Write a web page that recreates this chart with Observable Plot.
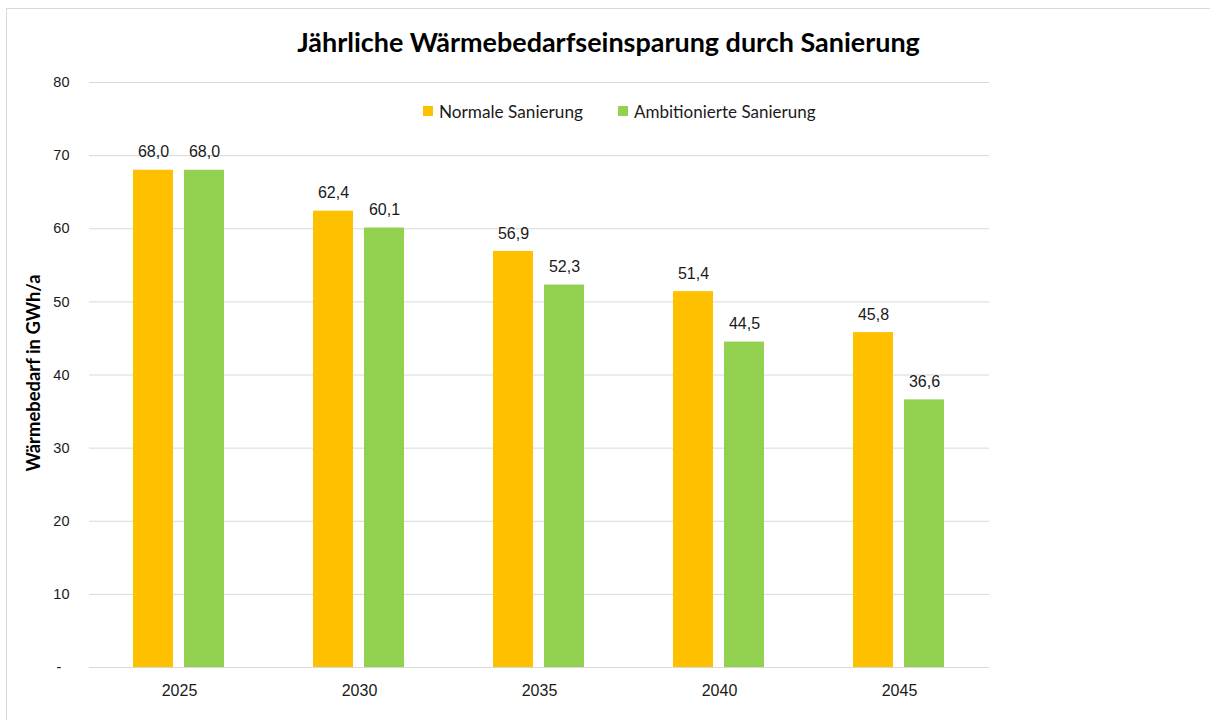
<!DOCTYPE html>
<html><head><meta charset="utf-8">
<script src="https://cdn.jsdelivr.net/npm/d3@7"></script>
<script src="https://cdn.jsdelivr.net/npm/@observablehq/plot@0.6"></script>
<style>
html,body{margin:0;padding:0;overflow:hidden;background:#fff;}
#frame{position:absolute;left:6px;top:8px;width:1220px;height:730px;border:1px solid #d9d9d9;background:#fff;}
#title{position:absolute;left:0;top:18px;width:1203px;text-align:center;font-family:Lato,"Open Sans",sans-serif;font-weight:700;font-size:26px;line-height:30px;color:#000;white-space:nowrap;}
#chart{position:absolute;left:0;top:62px;}
#legend{position:absolute;left:416px;top:92px;height:20px;display:flex;align-items:center;font-family:Lato,"Open Sans",sans-serif;font-size:16px;color:#1a1a1a;white-space:nowrap;}
.item{display:flex;align-items:center;}
.sw{width:10px;height:10px;margin-right:6px;}
#ylabel{position:absolute;left:26px;top:364px;transform:translate(-50%,-50%) rotate(-90deg);font-family:Lato,"Open Sans",sans-serif;font-weight:700;font-size:16px;color:#000;white-space:nowrap;}
</style>
</head><body>
<div id="frame">
  <div id="title"><span id="titleText">Jährliche Wärmebedarfseinsparung durch Sanierung</span></div>
  <div id="chart"></div>
  <div id="legend"></div>
  <div id="ylabel"><span id="ylabelText">Wärmebedarf in GWh/a</span></div>
</div>
<script>
const years = [2025, 2030, 2035, 2040, 2045];
const seriesNames = ["Normale Sanierung", "Ambitionierte Sanierung"];
const normalValues = [68.0, 62.4, 56.9, 51.4, 45.8];
const ambitiousValues = [68.0, 60.1, 52.3, 44.5, 36.6];
const seriesColors = ["#FFC000", "#92D050"];
const yTicks = [0, 10, 20, 30, 40, 50, 60, 70, 80];

const data = [];
years.forEach((yr, i) => {
  data.push({year: yr, series: seriesNames[0], value: normalValues[i]});
  data.push({year: yr, series: seriesNames[1], value: ambitiousValues[i]});
});
const fmt = v => v.toFixed(1).replace(".", ",");
const numFont = '"Liberation Sans", Arial, sans-serif';

const plot = Plot.plot({
  width: 1203,
  height: 649,
  marginTop: 11,
  marginBottom: 53,
  marginLeft: 81,
  marginRight: 219.5,
  style: {fontFamily: numFont, fontSize: "16px", color: "#1a1a1a", background: "transparent"},
  fx: {domain: years, padding: 0, label: null},
  x: {domain: seriesNames, paddingInner: 0.2136, paddingOuter: 0.86, axis: null},
  y: {domain: [0, 80], label: null},
  color: {domain: seriesNames, range: seriesColors},
  marks: [
    Plot.gridY(yTicks, {stroke: "#d9d9d9", strokeOpacity: 1, strokeWidth: 1}),
    Plot.barY(data, {fx: "year", x: "series", y: "value", fill: "series"}),
    Plot.text(data, {fx: "year", x: "series", y: "value", text: d => fmt(d.value), dy: -18, fontSize: 16, fill: "#1a1a1a"}),
    Plot.axisY(yTicks, {tickSize: 0, tickPadding: 20, fontSize: 14.5, label: null,
      tickFormat: d => d === 0 ? "-\u00a0\u00a0" : String(d), fill: "#1a1a1a"}),
    Plot.axisFx({anchor: "bottom", tickSize: 0, tickPadding: 17, fontSize: 16, label: null, fill: "#1a1a1a",
      tickFormat: d => String(d)})
  ]
});
document.getElementById("chart").appendChild(plot);

// legend
const legend = document.getElementById("legend");
seriesNames.forEach((name, i) => {
  const item = document.createElement("div");
  item.className = "item";
  if (i === 0) item.style.width = "195px";
  const sw = document.createElement("div");
  sw.className = "sw";
  sw.style.background = seriesColors[i];
  const t = document.createElement("span");
  t.className = "lt";
  t.textContent = name;
  item.appendChild(sw); item.appendChild(t);
  legend.appendChild(item);
});

// fit text widths to reference measurements
function fit(el, target) {
  const w = el.offsetWidth;
  const fs = parseFloat(getComputedStyle(el).fontSize);
  if (w > 0) el.style.fontSize = (fs * target / w) + "px";
}
fit(document.getElementById("titleText"), 623);
const lts = document.querySelectorAll(".lt");
fit(lts[0], 144);
fit(lts[1], 182);
fit(document.getElementById("ylabelText"), 197);
</script>
</body></html>
